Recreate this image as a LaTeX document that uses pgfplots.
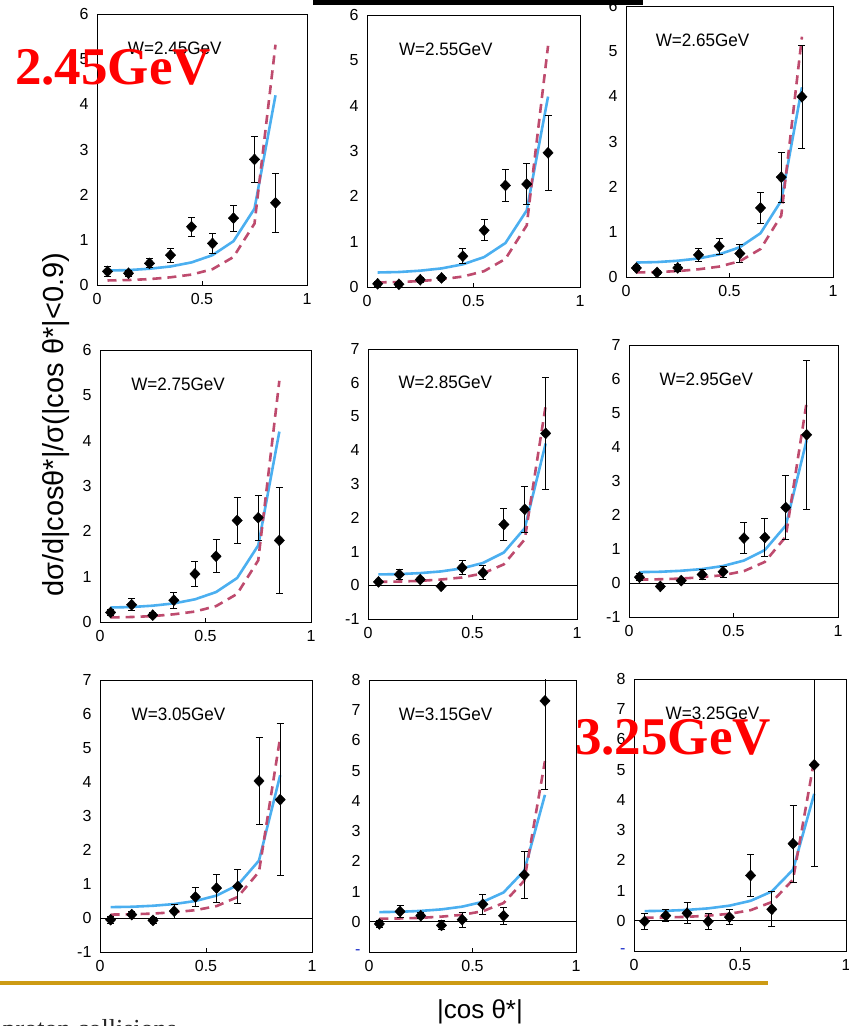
\documentclass[border=0pt]{standalone}
\usepackage{fontspec}
\setmainfont{Liberation Sans}
\newfontfamily\serifbf[BoldFont={Liberation Serif Bold}]{Liberation Serif}
\usepackage{pgfplots}
\usepackage{pgfplotstable}
\pgfplotsset{compat=1.18}

\definecolor{bl}{RGB}{75,175,240}
\definecolor{rd}{RGB}{190,75,110}
\definecolor{gold}{RGB}{205,155,20}
\definecolor{dashblue}{RGB}{20,40,200}

\pgfplotstableread{
x y
0.05 0.32
0.15 0.33
0.25 0.36
0.35 0.41
0.45 0.50
0.55 0.66
0.65 0.97
0.75 1.69
0.85 4.20
}\bluetab
\pgfplotstableread{
x y
0.05 0.10
0.15 0.11
0.25 0.13
0.35 0.17
0.45 0.23
0.55 0.35
0.65 0.62
0.75 1.36
0.85 5.32
}\redtab

\pgfplotstableread{
x y e
0.05 0.30 0.10
0.15 0.26 0.07
0.25 0.48 0.10
0.35 0.66 0.15
0.45 1.29 0.21
0.55 0.92 0.22
0.65 1.48 0.29
0.75 2.78 0.50
0.85 1.82 0.65
}\tabA
\pgfplotstableread{
x y e
0.05 0.07 0.05
0.15 0.06 0.04
0.25 0.16 0.05
0.35 0.20 0.05
0.45 0.68 0.17
0.55 1.25 0.23
0.65 2.24 0.35
0.75 2.27 0.45
0.85 2.96 0.83
}\tabB
\pgfplotstableread{
x y e
0.05 0.20 0.05
0.15 0.10 0.04
0.25 0.20 0.07
0.35 0.49 0.15
0.45 0.68 0.18
0.55 0.52 0.20
0.65 1.53 0.34
0.75 2.21 0.55
0.85 3.99 1.14
}\tabC
\pgfplotstableread{
x y e
0.05 0.21 0.07
0.15 0.38 0.13
0.25 0.15 0.05
0.35 0.48 0.18
0.45 1.06 0.28
0.55 1.45 0.36
0.65 2.24 0.50
0.75 2.30 0.50
0.85 1.80 1.16
}\tabD
\pgfplotstableread{
x y e
0.05 0.10 0.05
0.15 0.32 0.15
0.25 0.17 0.07
0.35 -0.03 0.04
0.45 0.52 0.21
0.55 0.37 0.21
0.65 1.80 0.48
0.75 2.25 0.69
0.85 4.50 1.67
}\tabE
\pgfplotstableread{
x y e
0.05 0.17 0.10
0.15 -0.10 0.07
0.25 0.07 0.05
0.35 0.25 0.16
0.45 0.33 0.17
0.55 1.32 0.46
0.65 1.34 0.56
0.75 2.22 0.93
0.85 4.36 2.20
}\tabF
\pgfplotstableread{
x y e
0.05 -0.05 0.10
0.15 0.10 0.10
0.25 -0.07 0.10
0.35 0.20 0.20
0.45 0.62 0.28
0.55 0.88 0.41
0.65 0.93 0.51
0.75 4.03 1.27
0.85 3.48 2.23
}\tabG
\pgfplotstableread{
x y e
0.05 -0.07 0.12
0.15 0.34 0.20
0.25 0.20 0.10
0.35 -0.12 0.15
0.45 0.07 0.25
0.55 0.58 0.34
0.65 0.20 0.28
0.75 1.55 0.77
0.85 7.31 2.93
}\tabH
\pgfplotstableread{
x y e
0.05 -0.02 0.26
0.15 0.17 0.20
0.25 0.25 0.34
0.35 -0.02 0.27
0.45 0.12 0.25
0.55 1.50 0.69
0.65 0.38 0.58
0.75 2.55 1.28
0.85 5.16 3.36
}\tabI

\pgfplotsset{panel/.style={
  scale only axis,
  xmin=0, xmax=1,
  xtick={0,0.5,1}, xticklabels={0,0.5,1},
  ytick distance=1,
  axis line style={black, line width=0.8pt},
  tick label style={font=\fontsize{16}{16}\selectfont},
  /pgf/number format/assume math mode=true,
  ytick style={draw=none},
  xtick style={black, line width=0.8pt},
  major tick length=4pt,
  tick align=inside,
  tick pos=left,
  xticklabel shift=5pt,
  yticklabel shift=5pt,
}}

\newcommand{\panel}[9]{%
\begin{axis}[panel, at={(#1,#2)}, anchor=south west, width=#3, height=#4, ymin=#5, ymax=#6, #9]
\addplot[black, line width=0.8pt] coordinates {(0,0) (1,0)};
\addplot[bl, line width=2.6pt] table[x=x,y=y] {\bluetab};
\addplot[rd, line width=2.6pt, dash pattern=on 9pt off 6pt] table[x=x,y=y] {\redtab};
\addplot[only marks, black, mark=diamond*, mark size=5.5pt, mark options={xscale=1.25},
  error bars/.cd, y dir=both, y explicit,
  error bar style={line width=0.9pt, black},
  error mark options={rotate=90, black, mark size=3.5pt, line width=0.9pt}]
  table[x=x, y=y, y error=e] {#8};
\node[font=\fontsize{18}{18}\selectfont, xscale=0.95] at (rel axis cs:0.37,0.875) {#7};
\end{axis}}

\begin{document}
\begin{tikzpicture}
\path[use as bounding box] (0pt,0pt) rectangle (849pt,1026pt);
\begin{scope}
\clip (0pt,0pt) rectangle (849pt,1026pt);

\panel{97pt}{741pt}{210pt}{271pt}{0}{6}{W=2.45GeV}{\tabA}{}
\panel{367pt}{739pt}{213pt}{272pt}{0}{6}{W=2.55GeV}{\tabB}{}
\panel{626pt}{749pt}{207pt}{271pt}{0}{6}{W=2.65GeV}{\tabC}{}
\panel{100pt}{404pt}{211pt}{272pt}{0}{6}{W=2.75GeV}{\tabD}{}
\panel{368pt}{407pt}{209pt}{270pt}{-1}{7}{W=2.85GeV}{\tabE}{}
\panel{629pt}{409pt}{209pt}{272pt}{-1}{7}{W=2.95GeV}{\tabF}{}
\panel{100pt}{74pt}{212pt}{272pt}{-1}{7}{W=3.05GeV}{\tabG}{}
\panel{369pt}{74pt}{207pt}{272pt}{-1}{8}{W=3.15GeV}{\tabH}{ytick={-1,0,...,8}, yticklabels={\textcolor{dashblue}{-},0,1,2,3,4,5,6,7,8}}
\panel{634pt}{75pt}{212pt}{272pt}{-1}{8}{W=3.25GeV}{\tabI}{ytick={-1,0,...,8}, yticklabels={\textcolor{dashblue}{-},0,1,2,3,4,5,6,7,8}}

% decorations of the slide
\fill[black] (313pt,1021pt) rectangle (643pt,1026pt);
\fill[gold] (0pt,41pt) rectangle (768pt,45pt);
\node[anchor=base east, font=\serifbf\fontsize{26}{26}\selectfont, text=black!85, inner sep=0pt] at (177pt,-11pt) {proton collisions};

% axis titles
\node[rotate=90, font=\fontsize{29}{29}\selectfont, inner sep=0pt] at (56pt,601pt) {dσ/d|cosθ*|/σ(|cos θ*|<0.9)};
\node[anchor=base, font=\fontsize{26}{26}\selectfont, inner sep=0pt] at (480pt,8pt) {|cos θ*|};

% red overlay labels
\node[anchor=base west, font=\serifbf\bfseries\fontsize{53}{53}\selectfont, text=red, inner sep=0pt] at (15pt,941pt) {2.45GeV};
\node[anchor=base west, font=\serifbf\bfseries\fontsize{53}{53}\selectfont, text=red, inner sep=0pt] at (575pt,271pt) {3.25GeV};
\end{scope}
\end{tikzpicture}
\end{document}
